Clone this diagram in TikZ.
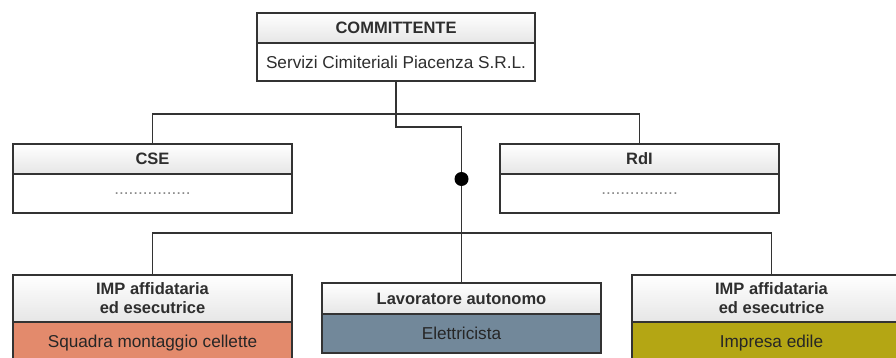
\documentclass[tikz,border=0pt]{standalone}
\usepackage{fontspec}
\setmainfont{Liberation Sans}
\newcommand\diagfs{\fontsize{17.2}{19}\selectfont}
\newcommand\diagbf{\fontsize{16.5}{19}\selectfont\bfseries}
\definecolor{lc}{HTML}{333333}
\definecolor{hg}{HTML}{E6E6E6}
\definecolor{tc}{HTML}{2E2E2E}
\definecolor{orng}{HTML}{E38A6C}
\definecolor{slate}{HTML}{72889A}
\definecolor{olive}{HTML}{B4A614}
\definecolor{dotgray}{HTML}{8A8A8A}
\begin{document}
\begin{tikzpicture}[x=1pt,y=-1pt,
  box/.style={draw=lc, line width=1.8pt, inner sep=0pt, outer sep=0pt, anchor=north west, align=center, font=\diagfs, text=tc},
  hdr/.style={box, top color=white, bottom color=hg, font=\diagbf},
  body/.style={box, fill=white},
  conn/.style={draw=lc, line width=1.6pt},
  jdot/.style={circle, fill=black, inner sep=0pt, minimum size=14pt}]
\useasboundingbox (0,0) rectangle (896,358);
\clip (0,0) rectangle (896,358);
% top box
\node[hdr, minimum width=278pt, minimum height=30pt] (comH) at (257,13) {COMMITTENTE};
\node[body, minimum width=278pt, minimum height=38pt] (comB) at (comH.south west) {Servizi Cimiteriali Piacenza S.R.L.};
% CSE and RdI
\node[hdr, minimum width=279pt, minimum height=30pt] (cseH) at (13,144) {CSE};
\node[body, minimum width=279pt, minimum height=39pt, text=dotgray] (cseB) at (cseH.south west) {................};
\node[hdr, minimum width=279pt, minimum height=30pt] (rdiH) at (500,144) {RdI};
\node[body, minimum width=279pt, minimum height=39pt, text=dotgray] (rdiB) at (rdiH.south west) {................};
% bottom row
\node[hdr, minimum width=279pt, minimum height=47pt] (impLH) at (13,275) {IMP affidataria\\ed esecutrice};
\node[box, fill=orng, minimum width=279pt, minimum height=42pt, text=black!85] (impLB) at (impLH.south west) {Squadra montaggio cellette};
\node[hdr, minimum width=279pt, minimum height=31pt] (lavH) at (322,283) {Lavoratore autonomo};
\node[box, fill=slate, minimum width=279pt, minimum height=39pt, text=black!85] (lavB) at (lavH.south west) {Elettricista};
\node[hdr, minimum width=279pt, minimum height=47pt] (impRH) at (632,275) {IMP affidataria\\ed esecutrice};
\node[box, fill=olive, minimum width=279pt, minimum height=42pt, text=black!85] (impRB) at (impRH.south west) {Impresa edile};
% connectors
\draw[conn] (comB.south) -- ++(0,33) coordinate (j1);
\draw[conn] (cseH.north) |- (j1) -| (rdiH.north);
\draw[conn] (j1) -- ++(0,13) -| (lavH.north);
\draw[conn] (impLH.north) -- ++(0,-42) -| (impRH.north);
\node[jdot] (dot) at (lavH.north |- 0,179) {};
\end{tikzpicture}
\end{document}
